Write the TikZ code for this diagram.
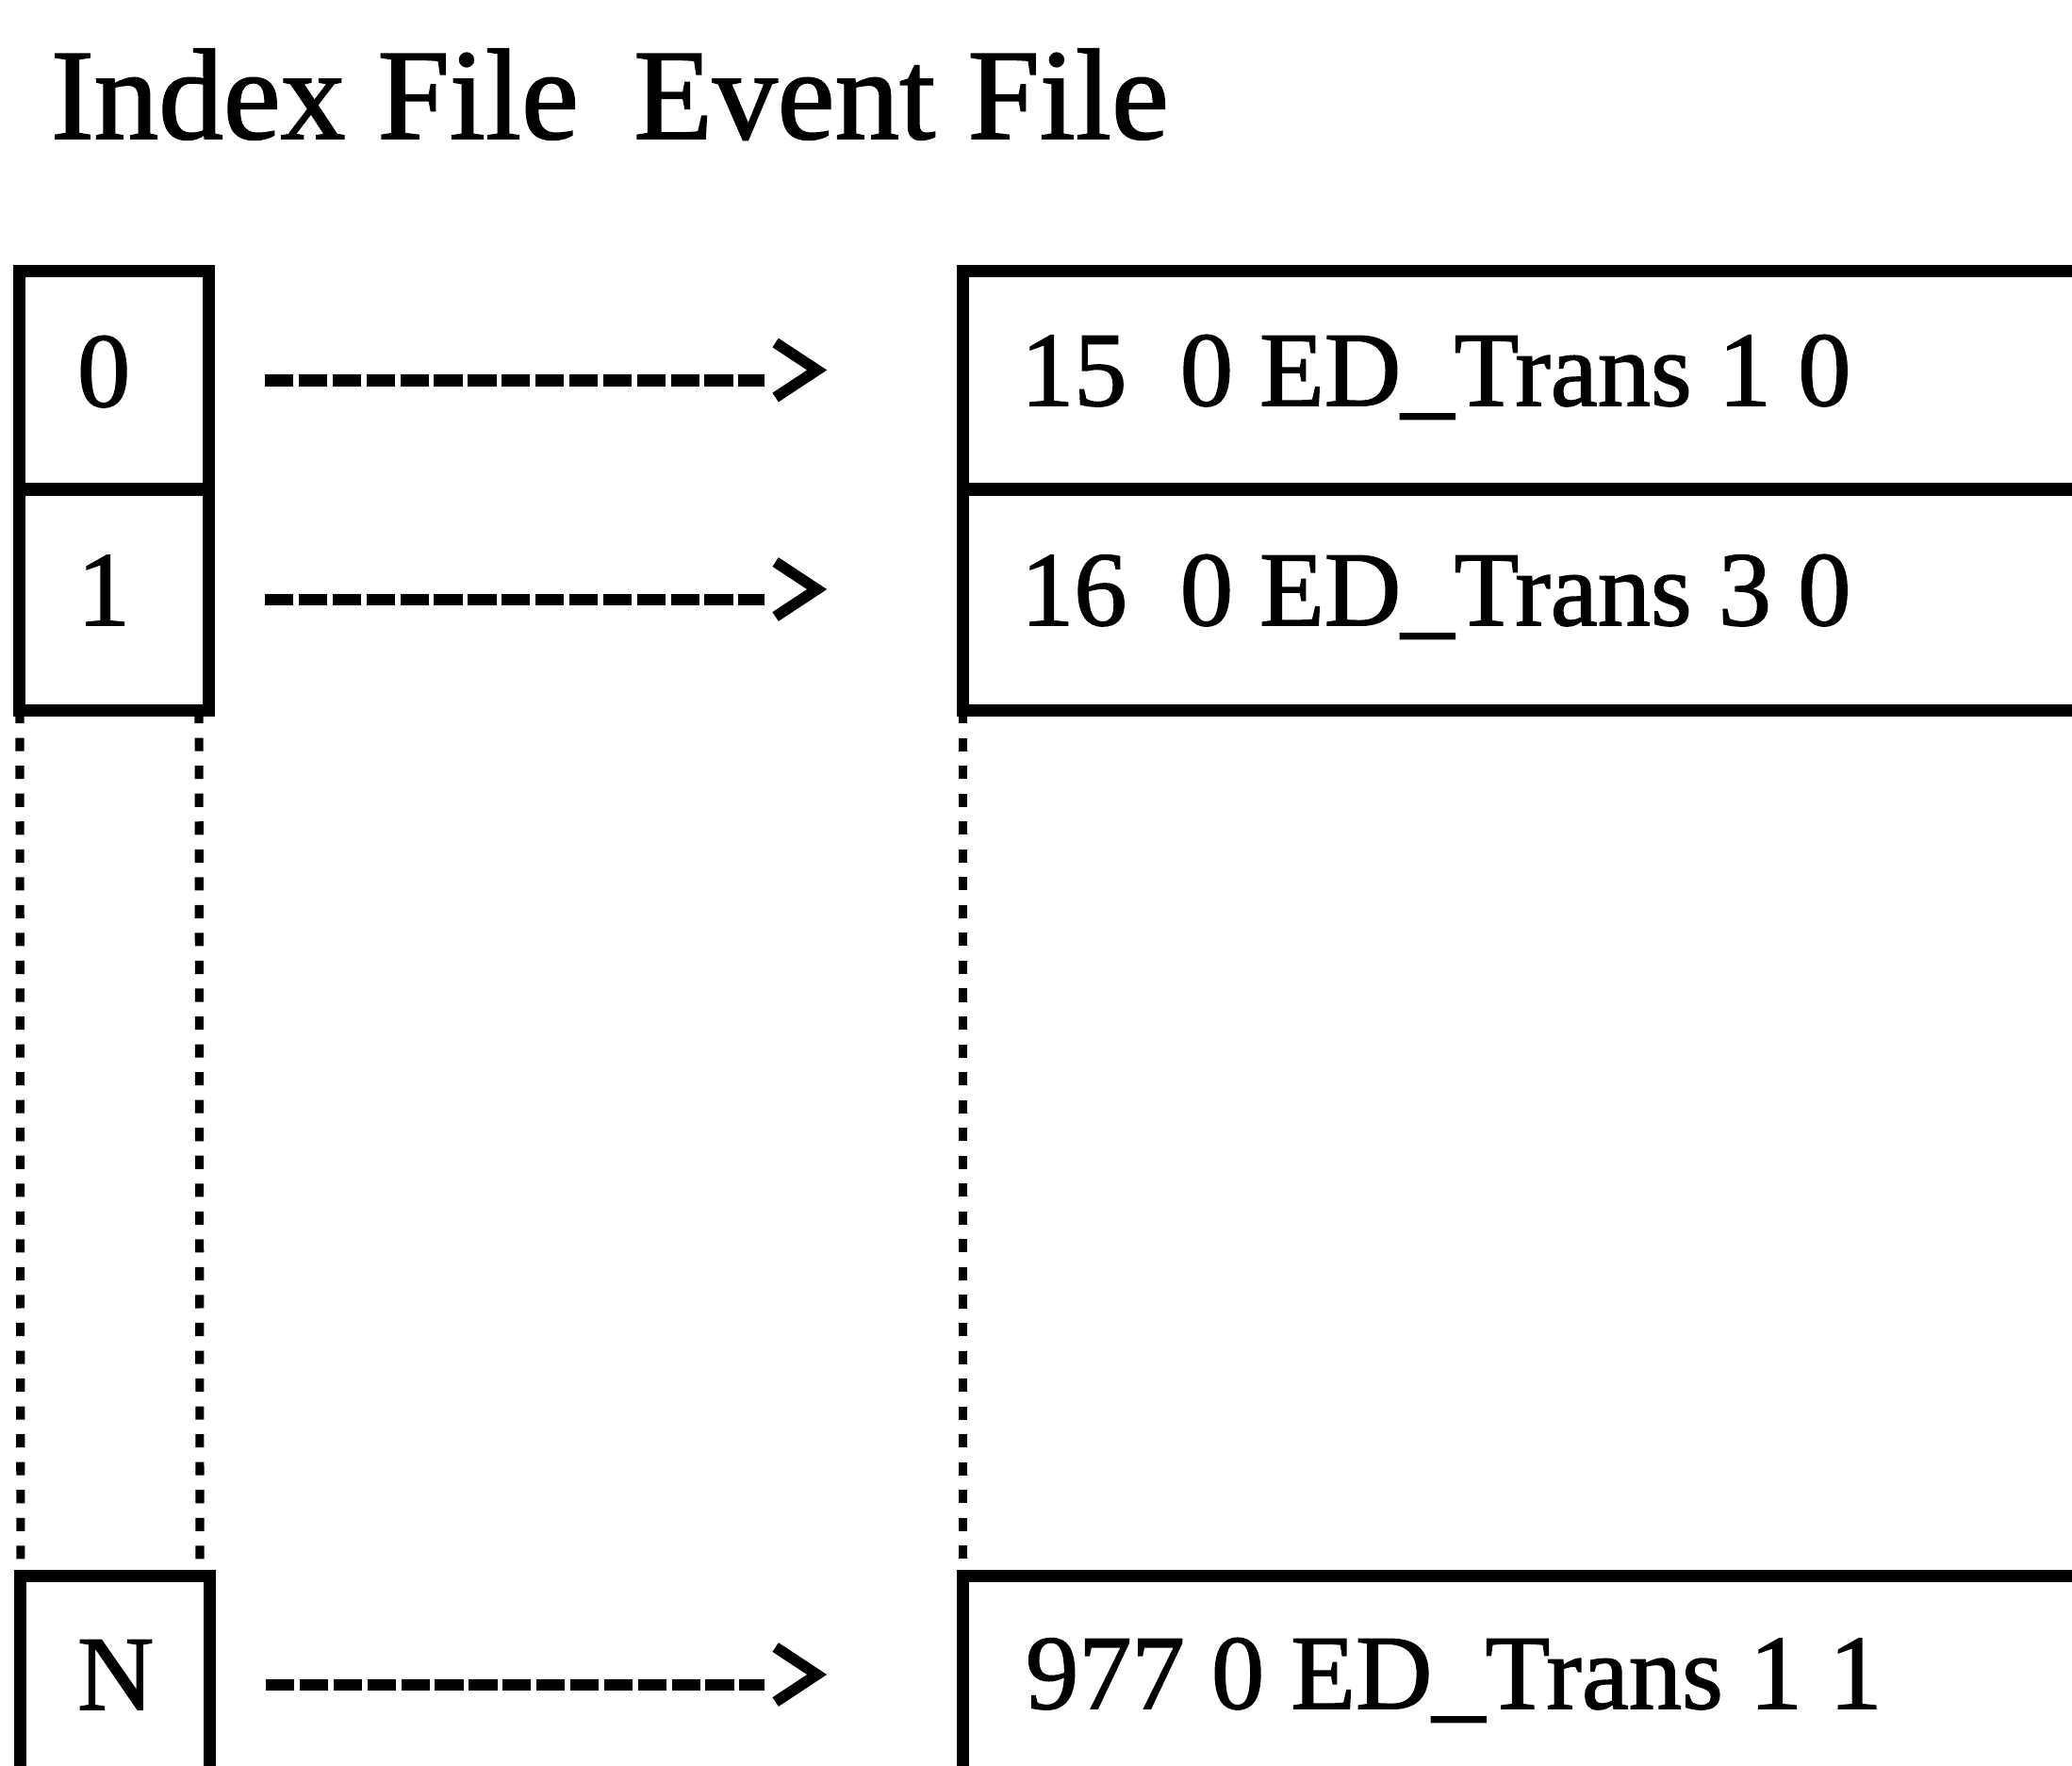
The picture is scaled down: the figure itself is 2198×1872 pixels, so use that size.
\documentclass[tikz,border=0pt]{standalone}
\usepackage{fontspec}
\setmainfont{Liberation Serif}
\newfontfamily\printfont{Liberation Serif}[FakeBold=1.3]
\usetikzlibrary{calc}

% coordinates are given in units of 0.01cm, with y growing downwards
\tikzset{
  frame/.style={draw, rectangle, line width=3.7pt, inner sep=0pt, outer sep=0pt},
  idxcell/.style={frame, minimum width=2.00cm},
  evcell/.style={frame, minimum width=12.78cm},
  gap/.style={line width=2.6pt, dash pattern=on 4pt off 4.4pt},
  pointer/.style={line width=3.6pt, dash pattern=on 8.6pt off 1.6pt,
                  shorten <=0.6cm, shorten >=2.11cm},
  chevron/.style={line width=3.3pt, line join=miter},
  entry/.style={inner sep=0pt, outer sep=0pt, anchor=base west,
                font=\printfont\fontsize{32pt}{38pt}\selectfont},
  heading/.style={inner sep=0pt, outer sep=0pt, anchor=base west,
                  font=\printfont\fontsize{39pt}{46pt}\selectfont}
}

\begin{document}
\begin{tikzpicture}[x=0.01cm, y=-0.01cm]
  \useasboundingbox (0,0) rectangle (2198,1872);
  \clip (0,0) rectangle (2198,1872);

  % heading
  \node[heading] (title) at (54,147) {Index File\hspace{0.24cm} Event File};

  % index file cells
  \node[idxcell, minimum height=2.31cm] (i0) at (121,403.5) {};
  \node[idxcell, minimum height=2.34cm] (i1) at (121,636) {};
  \node[idxcell, minimum height=2.30cm] (iN) at (122,1787) {};

  % event file records (running on past the right edge)
  \node[evcell, minimum height=2.31cm] (e0) at (1661,403.5) {};
  \node[evcell, minimum height=2.34cm] (e1) at (1661,636) {};
  \node[evcell, minimum height=2.30cm] (eN) at (1661,1787) {};

  % omitted entries
  \draw[gap] (i1.south west) -- (iN.north west);
  \draw[gap] ([xshift=-0.1cm]i1.south east) -- ([xshift=-0.1cm]iN.north east);
  \draw[gap] (e1.south west) -- (eN.north west);

  % cell contents
  \node[entry] (k0) at (82,431) {0};
  \node[entry] (k1) at (82,663) {1};
  \node[entry] (kN) at (82,1813) {N};
  \node[entry] (r0) at (1083,430) {15\ \ 0 ED\_Trans 1 0};
  \node[entry] (r1) at (1083,663) {16\ \ 0 ED\_Trans 3 0};
  \node[entry] (rN) at (1088,1812) {977 0 ED\_Trans 1 1};

  % pointers from index entries to records
  \foreach \r in {0,1,N} {
    \draw[pointer] (i\r) -- (e\r);
    \draw[chevron] ($(e\r.west)+(-199,-40)$) -- ($(e\r.west)+(-155,-11)$)
                   -- ($(e\r.west)+(-199,18)$);
  }
\end{tikzpicture}
\end{document}
